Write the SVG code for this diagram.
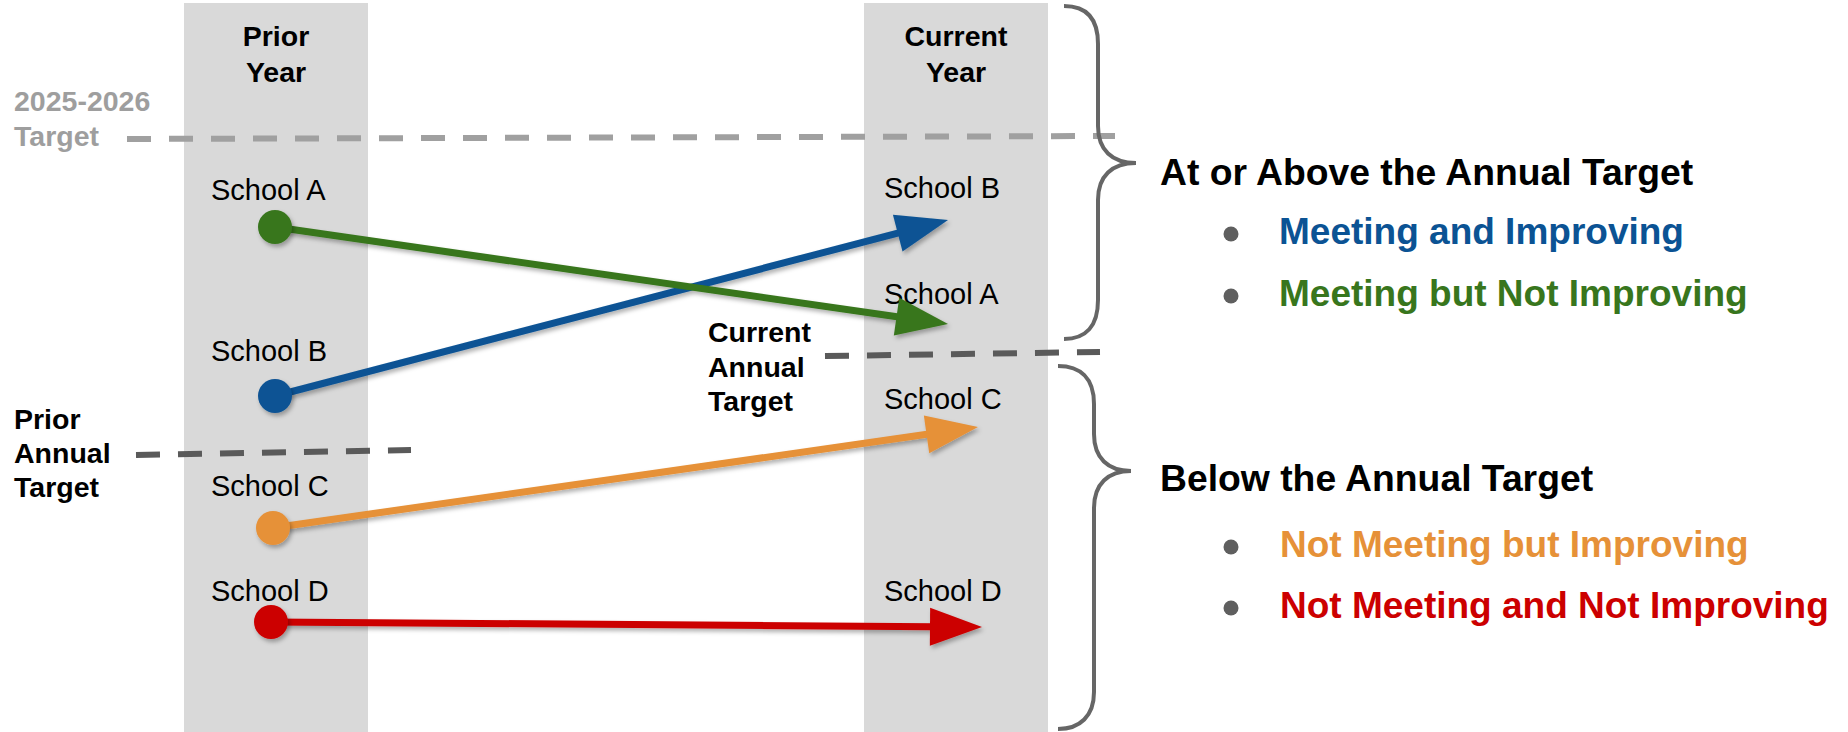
<svg xmlns="http://www.w3.org/2000/svg" width="1848" height="732" viewBox="0 0 1848 732">
<style>
text{font-family:"Liberation Sans",Arial,sans-serif}
.col{fill:#d9d9d9}
.hdr{font-size:28.5px;font-weight:bold;fill:#000;text-anchor:middle}
.lbl{font-size:28.5px;font-weight:bold;fill:#000}
.gl{font-size:28.5px;font-weight:bold;fill:#9e9e9e}
.sch{font-size:29px;fill:#000}
.head{font-size:37.3px;font-weight:bold;fill:#000}
.item{font-size:37px;font-weight:bold}
.dashG{stroke:#a0a0a0;stroke-width:6;stroke-dasharray:24 18;fill:none}
.dashD{stroke:#5a5a5a;stroke-width:6;stroke-dasharray:24 18;fill:none}
.brace{stroke:#666;stroke-width:4;fill:none}
.bul{fill:#5f5f5f}
.arr{stroke-width:7;fill:none}
</style>
<defs>
<filter id="sh" filterUnits="userSpaceOnUse" x="0" y="0" width="1848" height="732">
<feDropShadow dx="2" dy="3" stdDeviation="2" flood-color="#000" flood-opacity="0.3"/>
</filter>
<marker id="mG" markerUnits="userSpaceOnUse" markerWidth="54" markerHeight="40" viewBox="0 0 54 40" refX="4" refY="19" orient="auto" overflow="visible"><path d="M0,0 L52,19 L0,38 z" fill="#38761d"/></marker>
<marker id="mB" markerUnits="userSpaceOnUse" markerWidth="54" markerHeight="40" viewBox="0 0 54 40" refX="4" refY="19" orient="auto" overflow="visible"><path d="M0,0 L52,19 L0,38 z" fill="#0b5394"/></marker>
<marker id="mO" markerUnits="userSpaceOnUse" markerWidth="54" markerHeight="40" viewBox="0 0 54 40" refX="4" refY="19" orient="auto" overflow="visible"><path d="M0,0 L52,19 L0,38 z" fill="#e69138"/></marker>
<marker id="mR" markerUnits="userSpaceOnUse" markerWidth="54" markerHeight="40" viewBox="0 0 54 40" refX="4" refY="19" orient="auto" overflow="visible"><path d="M0,0 L52,19 L0,38 z" fill="#cc0000"/></marker>
</defs>
<rect width="1848" height="732" fill="#fff"/>

<g id="prior-year">
<rect class="col" x="184" y="3" width="184" height="729"/>
<text class="hdr" x="276" y="46">Prior</text>
<text class="hdr" x="276" y="82">Year</text>
</g>
<g id="current-year">
<rect class="col" x="864" y="3" width="184" height="729"/>
<text class="hdr" x="956" y="46">Current</text>
<text class="hdr" x="956" y="82">Year</text>
</g>

<g id="target-2025-2026">
<text class="gl" x="14" y="111">2025-2026</text>
<text class="gl" x="14" y="146">Target</text>
<line class="dashG" x1="127" y1="139" x2="1115" y2="136"/>
</g>
<g id="prior-annual-target">
<text class="lbl" x="14" y="429">Prior</text>
<text class="lbl" x="14" y="463">Annual</text>
<text class="lbl" x="14" y="497">Target</text>
<line class="dashD" x1="136" y1="455" x2="411" y2="450"/>
</g>
<g id="current-annual-target">
<text class="lbl" x="708" y="342">Current</text>
<text class="lbl" x="708" y="377">Annual</text>
<text class="lbl" x="708" y="411">Target</text>
<line class="dashD" x1="825" y1="356" x2="1100" y2="352"/>
</g>

<g id="prior-labels">
<text class="sch" x="211" y="200">School A</text>
<text class="sch" x="211" y="361">School B</text>
<text class="sch" x="211" y="496">School C</text>
<text class="sch" x="211" y="601">School D</text>
</g>
<g id="current-labels">
<text class="sch" x="884" y="198">School B</text>
<text class="sch" x="884" y="304">School A</text>
<text class="sch" x="884" y="409">School C</text>
<text class="sch" x="884" y="601">School D</text>
</g>

<g id="connectors" filter="url(#sh)">
<line class="arr" stroke="#0b5394" x1="275" y1="396" x2="901.6" y2="232.1" marker-end="url(#mB)"/>
<line class="arr" stroke="#38761d" x1="275" y1="227" x2="900.5" y2="317.2" marker-end="url(#mG)"/>
<line class="arr" stroke="#e69138" x1="272" y1="528" x2="930.5" y2="433.8" marker-end="url(#mO)"/>
<line class="arr" stroke="#cc0000" x1="270" y1="622" x2="934" y2="626.7" marker-end="url(#mR)"/>
</g>

<g id="school-a" filter="url(#sh)"><circle cx="275" cy="227" r="17" fill="#38761d"/></g>
<g id="school-b" filter="url(#sh)"><circle cx="275" cy="396" r="17" fill="#0b5394"/></g>
<g id="school-c" filter="url(#sh)"><circle cx="273" cy="528" r="17" fill="#e69138"/></g>
<g id="school-d" filter="url(#sh)"><circle cx="271" cy="622" r="17" fill="#cc0000"/></g>

<g id="brace-above">
<path class="brace" d="M1064,6 C1086,6 1098,18 1098,44 L1098,126 C1098,150 1112,163 1136,163 C1112,163 1098,176 1098,200 L1098,300 C1098,326 1086,339 1064,339"/>
</g>
<g id="brace-below">
<path class="brace" d="M1058,366 C1080,366 1094,378 1094,404 L1094,434 C1094,458 1108,471 1131,471 C1108,471 1094,484 1094,508 L1094,692 C1094,716 1080,729 1058,729"/>
</g>

<g id="legend-above">
<text class="head" x="1160" y="185">At or Above the Annual Target</text>
<circle class="bul" cx="1231" cy="234" r="7.5"/>
<text class="item" x="1279" y="244" fill="#0b5394">Meeting and Improving</text>
<circle class="bul" cx="1231" cy="296" r="7.5"/>
<text class="item" x="1279" y="306" fill="#38761d">Meeting but Not Improving</text>
</g>
<g id="legend-below">
<text class="head" x="1160" y="491">Below the Annual Target</text>
<circle class="bul" cx="1231" cy="547" r="7.5"/>
<text class="item" x="1280" y="557" fill="#e69138">Not Meeting but Improving</text>
<circle class="bul" cx="1231" cy="608" r="7.5"/>
<text class="item" x="1280" y="618" fill="#cc0000">Not Meeting and Not Improving</text>
</g>
</svg>
